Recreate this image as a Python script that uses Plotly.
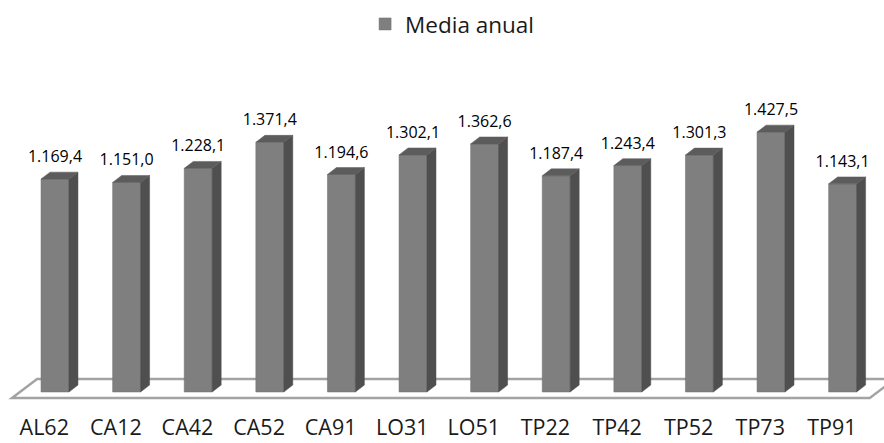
import plotly.graph_objects as go

categories = ["AL62", "CA12", "CA42", "CA52", "CA91", "LO31", "LO51",
              "TP22", "TP42", "TP52", "TP73", "TP91"]
media_anual = [1169.4, 1151.0, 1228.1, 1371.4, 1194.6, 1302.1, 1362.6,
               1187.4, 1243.4, 1301.3, 1427.5, 1143.1]
series_name = "Media anual"

# styling constants
FRONT = "#7f7f7f"
SIDE = "#4f4f4f"
TOP = "#5c5c5c"
BAR_W = 0.39       # front face width (category units)
DX = 0.126         # depth offset in x (category units)
DY = 38.0          # depth offset in y (value units)
LABEL_PAD = 33.0   # extra gap above the top face for labels (value units)
FONT = "Open Sans"

n = len(categories)
xs = list(range(n))

fig = go.Figure()

# side faces
sx, sy = [], []
for x, v in zip(xs, media_anual):
    r = x + BAR_W / 2
    sx += [r, r + DX, r + DX, r, r, None]
    sy += [0, DY, v + DY, v, 0, None]
fig.add_trace(go.Scatter(x=sx, y=sy, mode="lines", fill="toself",
                         fillcolor=SIDE, line=dict(color=SIDE, width=0.5),
                         showlegend=False, hoverinfo="skip"))

# top faces
tx, ty = [], []
for x, v in zip(xs, media_anual):
    l = x - BAR_W / 2
    r = x + BAR_W / 2
    tx += [l, l + DX, r + DX, r, l, None]
    ty += [v, v + DY, v + DY, v, v, None]
fig.add_trace(go.Scatter(x=tx, y=ty, mode="lines", fill="toself",
                         fillcolor=TOP, line=dict(color=TOP, width=0.5),
                         showlegend=False, hoverinfo="skip"))

# front faces
fig.add_trace(go.Bar(x=xs, y=media_anual, width=BAR_W, name=series_name,
                     marker=dict(color=FRONT, line=dict(color="#6e6e6e", width=0.5)),
                     showlegend=True, hoverinfo="skip"))

# data labels
fig.add_trace(go.Scatter(x=xs, y=[v + DY + LABEL_PAD for v in media_anual],
                         customdata=media_anual, mode="text",
                         texttemplate="%{customdata:,.1f}",
                         textposition="top center",
                         textfont=dict(family=FONT, size=16, color="#000000"),
                         showlegend=False, hoverinfo="skip"))

# floor (parallelogram under the bars)
f_front = -33.0
f_back = 71.0
fl = -0.60
fr = n - 1 + 0.38
bl = -0.25
br = n - 1 + 0.73
path = (f"M {fl},{f_front} L {bl},{f_back} L {br},{f_back} "
        f"L {fr},{f_front} Z")
fig.add_shape(type="path", path=path, xref="x", yref="y", layer="below",
              fillcolor="#ffffff", line=dict(color="#a3a3a3", width=2.5))

fig.update_layout(
    width=884, height=443,
    margin=dict(l=0, r=0, t=0, b=43),
    paper_bgcolor="#ffffff", plot_bgcolor="#ffffff",
    separators=",.",
    font=dict(family=FONT, color="#000000"),
    showlegend=True,
    legend=dict(orientation="h", x=0.413, xanchor="left", y=0.993, yanchor="top",
                font=dict(family=FONT, size=22.5, color="#1a1a1a"),
                bgcolor="rgba(0,0,0,0)"),
    xaxis=dict(range=[-0.768, 11.578], tickvals=[x - 0.15 for x in xs],
               ticktext=categories, showgrid=False, zeroline=False,
               showline=False, ticks="", automargin=False,
               tickfont=dict(family=FONT, size=21.5, color="#1a1a1a"),
               ticklabelstandoff=12, fixedrange=True),
    yaxis=dict(range=[-43.9, 2152.7], visible=False, showgrid=False,
               zeroline=False, automargin=False, fixedrange=True),
)

fig.write_html(
    "out.html",
    config={"displayModeBar": False},
    post_script="document.body.style.margin='0';document.body.style.overflow='hidden';",
)
